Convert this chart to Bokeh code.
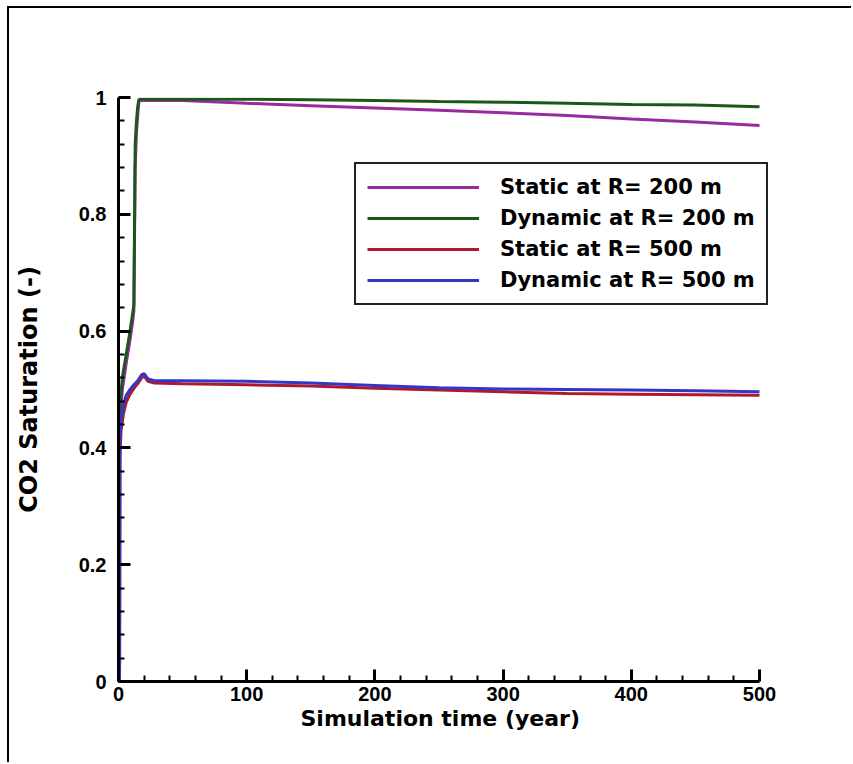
from bokeh.plotting import figure
from bokeh.models import FixedTicker, CustomJSTickFormatter, Legend, LegendItem, Title
from bokeh.embed import file_html
from bokeh.resources import INLINE

# ---- data ----
t_200 = [0.8, 1.0, 3, 6, 9, 11, 12, 13, 14, 15, 16, 50, 100, 150, 200, 250, 300, 350, 400, 450, 500]
static_200 = [0, 0.44, 0.50, 0.545, 0.585, 0.615, 0.635, 0.88, 0.94, 0.97, 0.995, 0.995, 0.990, 0.986, 0.982, 0.978, 0.974, 0.969, 0.963, 0.958, 0.952]
dynamic_200 = [0, 0.47, 0.52, 0.56, 0.60, 0.63, 0.645, 0.92, 0.96, 0.985, 0.997, 0.997, 0.997, 0.996, 0.995, 0.993, 0.992, 0.990, 0.988, 0.987, 0.984]

t_500 = [0.8, 1.0, 2, 4, 6, 9, 12, 15, 18, 20, 23, 28, 50, 100, 150, 200, 250, 300, 350, 400, 450, 500]
static_500 = [0, 0.38, 0.43, 0.46, 0.478, 0.492, 0.502, 0.510, 0.520, 0.523, 0.514, 0.511, 0.510, 0.508, 0.506, 0.502, 0.499, 0.496, 0.493, 0.492, 0.491, 0.490]
dynamic_500 = [0, 0.41, 0.45, 0.475, 0.49, 0.50, 0.508, 0.515, 0.525, 0.527, 0.518, 0.515, 0.515, 0.514, 0.511, 0.507, 0.503, 0.501, 0.500, 0.499, 0.498, 0.496]

x_ticks = [0, 100, 200, 300, 400, 500]
y_ticks = [0, 0.2, 0.4, 0.6, 0.8, 1.0]
labels = ["Static at R= 200 m", "Dynamic at R= 200 m", "Static at R= 500 m", "Dynamic at R= 500 m"]
colors = ["#9A2AA0", "#1A581A", "#B0182E", "#3535C8"]
x_title = "Simulation time (year)"
y_title = "CO2 Saturation (-)"

TICK_FONT = "Liberation Sans"
FONT = "DejaVu Sans"

# layout in pixels (page coordinates of the reference)
OFF_X, OFF_Y = 9, 8            # canvas origin, after the 2px picture frame at x=7 / y=6
AX_LEFT, AX_RIGHT = 118, 759   # x = 0 .. 500
AX_TOP, AX_BOTTOM = 97, 681    # y = 1 .. 0
FRAME_RIGHT = 790              # frame extended so the legend is not clipped
W, H = 853 - OFF_X, 764 - OFF_Y

x_end = 500 * (FRAME_RIGHT - AX_LEFT) / (AX_RIGHT - AX_LEFT)

p = figure(width=W, height=H, x_range=(0, x_end), y_range=(0, 1),
           output_backend="svg", toolbar_location=None,
           min_border_left=AX_LEFT - OFF_X, min_border_right=W - (FRAME_RIGHT - OFF_X),
           min_border_top=AX_TOP - OFF_Y, min_border_bottom=H - (AX_BOTTOM - OFF_Y))
p.styles = {"margin-left": "7px", "margin-top": "6px",
            "border-left": "2px solid black", "border-top": "2px solid black"}
p.outline_line_color = None
p.xgrid.visible = False
p.ygrid.visible = False
p.background_fill_color = "white"
p.border_fill_color = "white"

series = [(t_200, static_200), (t_200, dynamic_200), (t_500, static_500), (t_500, dynamic_500)]
renderers = []
for (xs, ys), c in zip(series, colors):
    r = p.line(xs, ys, line_color=c, line_width=3)
    renderers.append(r)

minor_x = [v for v in range(0, 501, 20) if v % 100 != 0]
minor_y = [round(i * 0.04, 2) for i in range(26) if i % 5 != 0]
p.xaxis.ticker = FixedTicker(ticks=x_ticks, minor_ticks=minor_x)
p.yaxis.ticker = FixedTicker(ticks=y_ticks, minor_ticks=minor_y)
p.xaxis.bounds = (0, 500)
p.yaxis.bounds = (0, 1)
p.yaxis.formatter = CustomJSTickFormatter(code="""
    if (Math.abs(tick) < 1e-9) return '0';
    if (Math.abs(tick - 1) < 1e-9) return '1';
    return tick.toFixed(1);
""")

for ax in (p.xaxis, p.yaxis):
    ax.axis_line_width = 3
    ax.axis_line_color = "black"
    ax.major_tick_in = 12
    ax.major_tick_out = 0
    ax.minor_tick_in = 6
    ax.minor_tick_out = 0
    ax.major_tick_line_width = 3
    ax.minor_tick_line_width = 2
    ax.major_tick_line_color = "black"
    ax.minor_tick_line_color = "black"
    ax.major_label_text_font = TICK_FONT
    ax.major_label_text_font_style = "bold"
    ax.major_label_text_font_size = "20px"
    ax.major_label_text_color = "black"
    ax.axis_label_text_font = FONT
    ax.axis_label_text_font_style = "bold"
    ax.axis_label_text_color = "black"

p.yaxis.axis_label = y_title
p.yaxis.axis_label_text_font_size = "24px"
p.xaxis.major_label_standoff = 5
p.yaxis.major_label_standoff = 12
p.yaxis.axis_label_standoff = 33

# x-axis title: centred under the 0..500 axis (the frame itself is wider)
xt = Title(text=x_title, align="left", offset=182, standoff=0,
           text_font=FONT, text_font_style="bold", text_font_size="22px", text_color="black")
p.add_layout(xt, "below")

legend = Legend(items=[LegendItem(label=l, renderers=[r]) for l, r in zip(labels, renderers)],
                location=(236, 376))
legend.label_text_font = FONT
legend.label_text_font_style = "bold"
legend.label_text_font_size = "21px"
legend.label_text_color = "black"
legend.glyph_width = 112
legend.glyph_height = 24
legend.label_height = 24
legend.label_standoff = 21
legend.padding = 11
legend.spacing = 7
legend.margin = 0
legend.border_line_color = "#222222"
legend.border_line_alpha = 1.0
legend.border_line_width = 2
legend.background_fill_color = "white"
legend.background_fill_alpha = 1.0
p.add_layout(legend, "center")

open("out.html", "w").write(file_html(p, INLINE))
